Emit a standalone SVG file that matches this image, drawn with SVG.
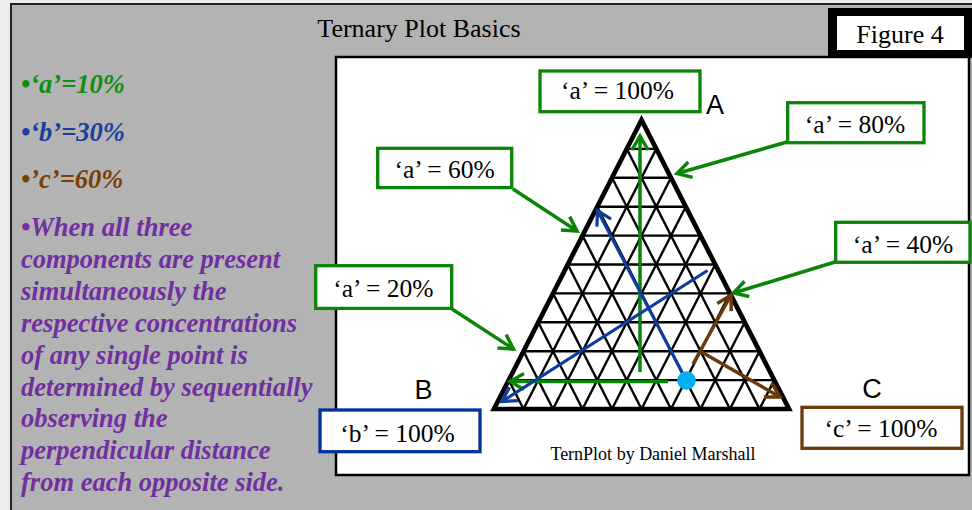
<svg xmlns="http://www.w3.org/2000/svg" width="972" height="510" viewBox="0 0 972 510">
<style>
.serif{font-family:"Liberation Serif","Times New Roman",serif;}
.lbl{font-family:"Liberation Serif","Times New Roman",serif;font-size:25.5px;fill:#000;text-anchor:middle;}
.bi{font-family:"Liberation Serif","Times New Roman",serif;font-size:26.5px;font-weight:bold;font-style:italic;}
.box{fill:#fff;stroke-width:3.3;}
.g{stroke:#0a850a;}
.grid line{stroke:#000;stroke-width:2.4;}
.ga{stroke:#0a850a;stroke-width:3.5;fill:none;marker-end:url(#mg);}
.ba{stroke:#0f3d9c;stroke-width:3.2;fill:none;marker-end:url(#mb);}
.ra{stroke:#6b3a0a;stroke-width:3.5;fill:none;marker-end:url(#mr);}
.vtx{font-family:"Liberation Sans",Arial,sans-serif;font-size:27px;fill:#000;text-anchor:middle;}
</style>
<defs>
<marker id="mg" viewBox="-4 -4 24 24" refX="14" refY="8" markerWidth="24" markerHeight="24" markerUnits="userSpaceOnUse" orient="auto" overflow="visible"><path d="M0,0 L14,8 L0,16" fill="none" stroke="#0a850a" stroke-width="3.5"/></marker>
<marker id="mb" viewBox="-4 -4 24 24" refX="14" refY="8" markerWidth="24" markerHeight="24" markerUnits="userSpaceOnUse" orient="auto" overflow="visible"><path d="M0,0 L14,8 L0,16" fill="none" stroke="#0f3d9c" stroke-width="3.2"/></marker>
<marker id="mr" viewBox="-4 -4 24 24" refX="14" refY="8" markerWidth="24" markerHeight="24" markerUnits="userSpaceOnUse" orient="auto" overflow="visible"><path d="M0,0 L14,8 L0,16" fill="none" stroke="#6b3a0a" stroke-width="3.5"/></marker>
</defs>
<rect x="0" y="0" width="972" height="510" fill="#ececec"/>
<rect x="11" y="4" width="980" height="530" fill="#b3b3b3" stroke="#222" stroke-width="2"/>
<g id="title"><text class="serif" x="419" y="37" font-size="26" text-anchor="middle" fill="#000">Ternary Plot Basics</text></g>
<g id="figure-label">
<rect x="828" y="8" width="150" height="50" fill="#000"/>
<rect x="837" y="16" width="127" height="34" fill="#fff"/>
<text class="serif" x="900" y="43" font-size="26" text-anchor="middle" fill="#000">Figure 4</text>
</g>
<g id="notes">
<text class="bi" x="21" y="93" fill="#0e8f12">•‘a’=10%</text>
<text class="bi" x="21" y="141" fill="#1a3fa0">•‘b’=30%</text>
<text class="bi" x="21" y="188" fill="#7b3f00">•’c’=60%</text>
<text class="bi" fill="#7030a0">
<tspan x="21" y="236">•When all three</tspan>
<tspan x="21" y="268">components are present</tspan>
<tspan x="21" y="300">simultaneously the</tspan>
<tspan x="21" y="332">respective concentrations</tspan>
<tspan x="21" y="364">of any single point is</tspan>
<tspan x="21" y="396">determined by sequentially</tspan>
<tspan x="21" y="427">observing the</tspan>
<tspan x="21" y="459">perpendicular distance</tspan>
<tspan x="21" y="491">from each opposite side.</tspan>
</text>
</g>
<g id="plot-frame"><rect x="336" y="57" width="633" height="418" fill="#fff" stroke="#000" stroke-width="2.5"/></g>
<g id="triangle">
<g class="grid">
<line x1="508.75" y1="380.1" x2="774.25" y2="380.1"/>
<line x1="523.5" y1="351.2" x2="759.5" y2="351.2"/>
<line x1="538.25" y1="322.3" x2="744.75" y2="322.3"/>
<line x1="553" y1="293.4" x2="730" y2="293.4"/>
<line x1="567.75" y1="264.5" x2="715.25" y2="264.5"/>
<line x1="582.5" y1="235.6" x2="700.5" y2="235.6"/>
<line x1="597.25" y1="206.7" x2="685.75" y2="206.7"/>
<line x1="612" y1="177.8" x2="671" y2="177.8"/>
<line x1="626.75" y1="148.9" x2="656.25" y2="148.9"/>
<line x1="523.5" y1="409" x2="656.25" y2="148.9"/>
<line x1="553" y1="409" x2="671" y2="177.8"/>
<line x1="582.5" y1="409" x2="685.75" y2="206.7"/>
<line x1="612" y1="409" x2="700.5" y2="235.6"/>
<line x1="641.5" y1="409" x2="715.25" y2="264.5"/>
<line x1="671" y1="409" x2="730" y2="293.4"/>
<line x1="700.5" y1="409" x2="744.75" y2="322.3"/>
<line x1="730" y1="409" x2="759.5" y2="351.2"/>
<line x1="759.5" y1="409" x2="774.25" y2="380.1"/>
<line x1="523.5" y1="409" x2="508.75" y2="380.1"/>
<line x1="553" y1="409" x2="523.5" y2="351.2"/>
<line x1="582.5" y1="409" x2="538.25" y2="322.3"/>
<line x1="612" y1="409" x2="553" y2="293.4"/>
<line x1="641.5" y1="409" x2="567.75" y2="264.5"/>
<line x1="671" y1="409" x2="582.5" y2="235.6"/>
<line x1="700.5" y1="409" x2="597.25" y2="206.7"/>
<line x1="730" y1="409" x2="612" y2="177.8"/>
<line x1="759.5" y1="409" x2="626.75" y2="148.9"/>
</g>
<polygon points="641.5,120 494,409 789,409" fill="none" stroke="#000" stroke-width="4.7" stroke-linejoin="miter"/>
</g>
<g id="vertex-labels">
<text class="vtx" x="715" y="113.5">A</text>
<text class="vtx" x="423.5" y="399">B</text>
<text class="vtx" x="872" y="397.5">C</text>
</g>
<g id="connectors">
<line class="ga" x1="640" y1="372" x2="640" y2="136"/>
<line class="ga" x1="668" y1="381.5" x2="510" y2="381.5"/>
<line class="ga" x1="787" y1="142" x2="677" y2="173.5"/>
<line class="ga" x1="513" y1="189" x2="577" y2="231"/>
<line class="ga" x1="835" y1="262" x2="733.5" y2="293"/>
<line class="ga" x1="452" y1="309" x2="513.5" y2="349"/>
<line class="ba" x1="683" y1="374" x2="597.5" y2="210.5"/>
<line class="ba" x1="707.5" y1="270.5" x2="502" y2="401.5"/>
<line class="ra" x1="693" y1="364" x2="731" y2="295"/>
<line class="ra" x1="701.5" y1="352" x2="780" y2="397"/>
</g>
<g id="point"><circle cx="686.5" cy="380.5" r="9.3" fill="#00b0f0"/></g>
<g id="box-a100"><rect class="box g" x="540" y="71" width="160" height="40.7"/><text class="lbl" x="617.5" y="99">‘a’ = 100%</text></g>
<g id="box-a80"><rect class="box g" x="787.7" y="102.7" width="136.3" height="40"/><text class="lbl" x="855" y="132.7">‘a’ = 80%</text></g>
<g id="box-a60"><rect class="box g" x="377.7" y="148.3" width="134" height="39.3"/><text class="lbl" x="444.7" y="178.3">‘a’ = 60%</text></g>
<g id="box-a40"><rect class="box g" x="835.7" y="222.3" width="134.3" height="40"/><text class="lbl" x="903" y="253.3">‘a’ = 40%</text></g>
<g id="box-a20"><rect class="box g" x="315.7" y="265.7" width="136" height="42.7"/><text class="lbl" x="383.3" y="296.7">‘a’ = 20%</text></g>
<g id="box-b100"><rect class="box" stroke="#003399" x="320" y="410" width="160" height="41.7"/><text class="lbl" x="397.5" y="441.7">‘b’ = 100%</text></g>
<g id="box-c100"><rect class="box" stroke="#6b3a0a" x="802" y="407.3" width="160" height="41"/><text class="lbl" x="881" y="437.3">‘c’ = 100%</text></g>
<g id="credit"><text class="serif" x="653" y="460" font-size="18" text-anchor="middle" fill="#000">TernPlot by Daniel Marshall</text></g>
</svg>
